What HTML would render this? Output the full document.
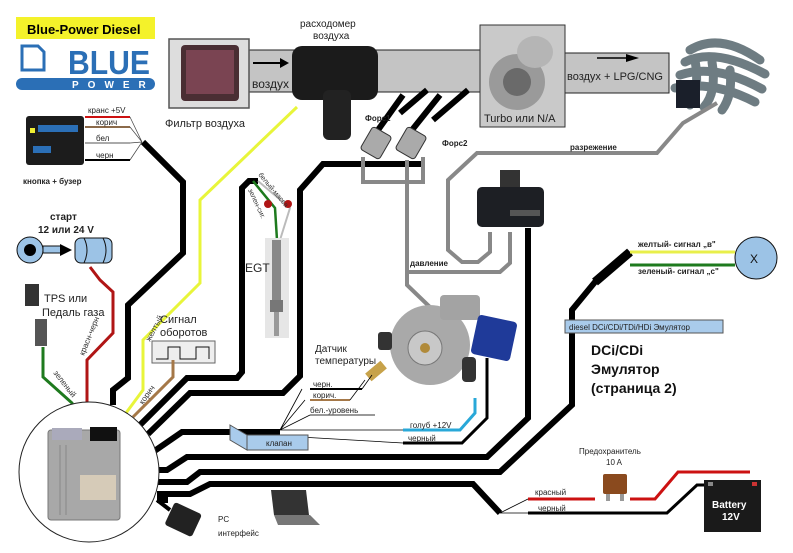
<!DOCTYPE html>
<html><head><meta charset="utf-8"><style>
body{margin:0;background:#fff;}
svg{display:block;font-family:"Liberation Sans",Arial,sans-serif;}
</style></head><body>
<svg width="793" height="553" viewBox="0 0 793 553" xmlns="http://www.w3.org/2000/svg">
<rect width="793" height="553" fill="#fff"/>
<!-- Logo -->
<rect x="16" y="17" width="139" height="22" fill="#f4f22a"/>
<text x="27" y="34" font-size="13" font-weight="bold">Blue-Power Diesel</text>
<path d="M22 46 h16 l6 6 v18 h-22z" fill="none" stroke="#2b6fb6" stroke-width="3"/>
<text x="68" y="74" font-size="33" font-weight="bold" fill="#2b6fb6" textLength="82" lengthAdjust="spacingAndGlyphs">BLUE</text>
<rect x="16" y="78" width="139" height="12" rx="6" fill="#2b6fb6"/>
<text x="72" y="88" font-size="10" font-weight="bold" fill="#fff" letter-spacing="9">POWER</text>

<!-- Intake tubes -->
<rect x="249" y="50" width="233" height="42" fill="#c4c4c4" stroke="#222" stroke-width="1"/>
<rect x="565" y="53" width="104" height="40" fill="#c4c4c4" stroke="#222" stroke-width="1"/>
<line x1="253" y1="63" x2="282" y2="63" stroke="#000" stroke-width="2"/><path d="M280 58 l9 5 l-9 5z"/>
<text x="252" y="88" font-size="12" fill="#222">воздух</text>
<line x1="597" y1="58" x2="628" y2="58" stroke="#000" stroke-width="1.5"/><path d="M626 54 l13 4 l-13 4z"/>
<text x="567" y="80" font-size="11" fill="#222">воздух + LPG/CNG</text>
<!-- air filter -->
<rect x="169" y="39" width="80" height="69" fill="#ddd" stroke="#555" stroke-width="1.5"/>
<rect x="181" y="45" width="58" height="56" rx="4" fill="#4a2e33"/>
<rect x="186" y="50" width="48" height="44" fill="#7a4452"/>
<text x="165" y="127" font-size="11" fill="#222">Фильтр воздуха</text>
<!-- flowmeter -->
<text x="300" y="27" font-size="10" fill="#222">расходомер</text>
<text x="313" y="39" font-size="10" fill="#222">воздуха</text>
<rect x="292" y="46" width="86" height="54" rx="10" fill="#1b1b1b"/>
<rect x="323" y="90" width="28" height="50" rx="6" fill="#222"/>
<!-- turbo -->
<rect x="480" y="25" width="85" height="102" fill="#c9c9c9" stroke="#333"/>
<circle cx="517" cy="82" r="28" fill="#9a9a9a"/><circle cx="517" cy="82" r="14" fill="#6a6a6a"/>
<ellipse cx="535" cy="52" rx="18" ry="16" fill="#b5b5b5"/>
<text x="484" y="122" font-size="11" fill="#222">Turbo или N/A</text>
<!-- manifold -->
<g fill="none" stroke="#6e7c82" stroke-width="9" stroke-linecap="round">
<path d="M690 50 q30 -18 70 10"/><path d="M685 62 q30 -15 80 12"/><path d="M680 75 q35 -12 82 14"/><path d="M675 88 q38 -8 80 14"/>
<path d="M695 60 q5 30 -5 45"/><path d="M712 62 q5 30 -8 45"/><path d="M730 70 q3 25 -8 40"/>
</g>
<rect x="676" y="80" width="24" height="28" fill="#1a1f2a"/>

<!-- kнопка -->
<rect x="26" y="116" width="58" height="49" rx="3" fill="#1c1c1c"/>
<rect x="30" y="128" width="5" height="5" fill="#ee3"/><rect x="38" y="125" width="40" height="7" fill="#2b6fb6"/>
<rect x="33" y="146" width="18" height="7" fill="#2b6fb6"/>
<g stroke-width="2" fill="none"><line x1="85" y1="117" x2="130" y2="117" stroke="#c11"/><line x1="85" y1="127" x2="130" y2="127" stroke="#8b6a4a"/><line x1="85" y1="143" x2="130" y2="143" stroke="#aaa"/><line x1="85" y1="160" x2="130" y2="160" stroke="#000"/></g>
<path d="M130 117 L142 142 M130 127 L142 142 M130 143 L142 142 M130 160 L142 142" stroke="#444" stroke-width="0.7"/>
<text x="88" y="113" font-size="8" fill="#222">кранс +5V</text>
<text x="96" y="125" font-size="8" fill="#222">корич</text>
<text x="96" y="141" font-size="8" fill="#222">бел</text>
<text x="96" y="158" font-size="8" fill="#222">черн</text>
<text x="23" y="184" font-size="8" font-weight="bold" fill="#222">кнопка + бузер</text>

<!-- start -->
<text x="50" y="220" font-size="10" font-weight="bold" fill="#222">старт</text>
<text x="38" y="233" font-size="10" font-weight="bold" fill="#222">12 или 24 V</text>
<circle cx="30" cy="250" r="13" fill="#9cc3e6" stroke="#111"/><circle cx="30" cy="250" r="6" fill="#000"/>
<rect x="43" y="246" width="18" height="7" fill="#9cc3e6" stroke="#111"/><path d="M60 244 l12 6 l-12 6z"/>
<rect x="75" y="238" width="37" height="25" rx="6" fill="#9cc3e6" stroke="#111"/>
<path d="M84 238 q6 12 0 25 M103 238 q6 12 0 25" stroke="#111" fill="none"/>

<!-- TPS -->
<rect x="25" y="284" width="14" height="22" fill="#333"/><rect x="35" y="319" width="12" height="27" fill="#555"/>
<text x="44" y="302" font-size="11" fill="#222">TPS или</text>
<text x="42" y="316" font-size="11" fill="#222">Педаль газа</text>
<polyline points="43,347 43,377 72,403 73,407" fill="none" stroke="#1e7a1e" stroke-width="3"/>
<polyline points="90,267 100,280 113,292 113,333 87,360 87,405" fill="none" stroke="#b01515" stroke-width="3"/>
<text transform="translate(53,373) rotate(52)" font-size="8" fill="#333">зеленый</text>
<text transform="translate(84,356) rotate(-68)" font-size="8" fill="#333">красн-черн</text>

<!-- yellow -->
<polyline points="297,107 200,200 200,283 143,340 143,390 123,417" fill="none" stroke="#e8f53a" stroke-width="3"/>
<text transform="translate(150,342) rotate(-62)" font-size="8" fill="#333">желтый</text>
<!-- signal -->
<text x="160" y="323" font-size="11" fill="#222">Сигнал</text>
<text x="160" y="336" font-size="11" fill="#222">оборотов</text>
<rect x="152" y="341" width="63" height="22" fill="#eee" stroke="#666"/>
<polyline points="156,359 168,359 168,347 180,347 180,359 196,359 196,347 209,347 209,359" fill="none" stroke="#111"/>
<polyline points="173,360 173,377 133,417" fill="none" stroke="#a57848" stroke-width="3"/>
<text transform="translate(143,405) rotate(-55)" font-size="8" fill="#333">корич</text>

<!-- black thick wires -->
<g fill="none" stroke="#000" stroke-width="6" stroke-linejoin="miter">
<polyline points="143,142 183,182 183,253 128,305 128,378 113,390 113,405"/>
<polyline points="138,427 187,378 237,378 242,372 242,188 249,181 258,181"/>
<polyline points="148,434 190,393 283,393 300,376 300,190 323,164 425,164"/>
<polyline points="153,452 182,432 280,432"/>
<polyline points="157,470 167,470 187,457 487,457 528,418 528,228"/>
<polyline points="157,482 187,482 200,472 500,472 572,405 572,310 595,282 630,252"/>
<polyline points="157,494 190,494 210,484 473,484 500,513"/>
<line x1="157" y1="500" x2="168" y2="500"/>
</g>
<line x1="595" y1="282" x2="630" y2="252" stroke="#000" stroke-width="9"/>
<!-- X -->
<line x1="630" y1="252" x2="735" y2="252" stroke="#e8ef4a" stroke-width="3"/>
<line x1="630" y1="265" x2="735" y2="265" stroke="#1e7a1e" stroke-width="3"/>
<text x="638" y="247" font-size="8" font-weight="bold" fill="#222">желтый- сигнал „в"</text>
<text x="638" y="274" font-size="8" font-weight="bold" fill="#222">зеленый- сигнал „с"</text>
<circle cx="756" cy="258" r="21" fill="#9cc3e6" stroke="#111"/>
<text x="750" y="263" font-size="12" fill="#111">X</text>

<!-- EGT -->
<polyline points="253,181 275,208 277,240" fill="none" stroke="#1e7a1e" stroke-width="2.5"/>
<polyline points="258,181 290,208 280,240" fill="none" stroke="#bbb" stroke-width="2"/>
<circle cx="268" cy="204" r="4" fill="#b01515"/><circle cx="288" cy="204" r="4" fill="#b01515"/>
<text transform="translate(258,175) rotate(50)" font-size="7" fill="#333">белый-масса</text>
<text transform="translate(248,190) rotate(65)" font-size="7" fill="#333">зелен-сиг.</text>
<rect x="265" y="238" width="24" height="100" fill="#e6e6e6"/>
<rect x="272" y="240" width="9" height="60" fill="#888"/><rect x="270" y="300" width="13" height="12" fill="#777"/><rect x="274" y="312" width="5" height="24" fill="#999"/>
<text x="245" y="272" font-size="12" fill="#222">EGT</text>

<!-- injectors -->
<g fill="none" stroke="#000" stroke-width="6">
<line x1="378" y1="130" x2="403" y2="95"/><line x1="412" y1="130" x2="440" y2="95"/>
<line x1="400" y1="113" x2="427" y2="90"/><line x1="433" y1="120" x2="468" y2="90"/>
</g>
<g fill="#aaa" stroke="#333"><rect x="365" y="130" width="22" height="26" rx="3" transform="rotate(30 376 143)"/><rect x="400" y="130" width="22" height="26" rx="3" transform="rotate(30 411 143)"/></g>
<text x="365" y="121" font-size="8" font-weight="bold" fill="#222">Форс1</text>
<text x="442" y="146" font-size="8" font-weight="bold" fill="#222">Форс2</text>

<!-- gray hoses -->
<g fill="none" stroke="#888" stroke-width="4">
<polyline points="363,157 363,182 423,182 423,157"/>
<polyline points="407,160 407,285 433,310 433,324"/>
<polyline points="717,103 683,123 657,153 477,153 448,180 448,250 462,262 478,262 490,252 490,232"/>
<polyline points="510,232 510,263 500,272 407,272"/>
</g>
<text x="570" y="150" font-size="8" font-weight="bold" fill="#222">разрежение</text>
<text x="410" y="266" font-size="8" font-weight="bold" fill="#222">давление</text>
<!-- emulator box -->
<rect x="500" y="170" width="20" height="20" fill="#333"/>
<rect x="477" y="187" width="67" height="40" rx="5" fill="#1d1f24"/>
<rect x="510" y="210" width="30" height="6" fill="#555"/>

<!-- regulator -->
<circle cx="430" cy="345" r="40" fill="#a9a9a9"/><circle cx="425" cy="348" r="17" fill="#c8c8c8" stroke="#777"/><circle cx="425" cy="348" r="5" fill="#b08a3a"/>
<rect x="440" y="295" width="40" height="25" rx="4" fill="#a3a3a3"/>
<rect x="474" y="318" width="40" height="40" rx="4" fill="#1f3a99" transform="rotate(12 494 338)"/>
<rect x="462" y="357" width="14" height="25" rx="4" fill="#333"/>
<rect x="378" y="332" width="14" height="18" rx="3" fill="#333"/>
<rect x="366" y="366" width="20" height="10" fill="#c7a24a" transform="rotate(-40 376 371)"/>
<text x="315" y="352" font-size="10" fill="#222">Датчик</text>
<text x="315" y="364" font-size="10" fill="#222">температуры</text>
<line x1="310" y1="389" x2="362" y2="389" stroke="#000" stroke-width="2"/>
<line x1="310" y1="400" x2="350" y2="400" stroke="#a57848" stroke-width="2"/>
<line x1="310" y1="415" x2="375" y2="415" stroke="#999" stroke-width="2"/>
<text x="313" y="387" font-size="8" fill="#222">черн.</text>
<text x="313" y="398" font-size="8" fill="#222">корич.</text>
<text x="310" y="413" font-size="8" fill="#222">бел.-уровень</text>
<path d="M280 430 L302 389 M280 430 L305 400 M280 430 L310 415 M362 389 L372 375 M350 400 L365 380 M280 430 L403 430 M300 437 L403 443" stroke="#000" stroke-width="0.8" fill="none"/>
<polyline points="403,430 460,430 475,413 475,398" fill="none" stroke="#29a8d8" stroke-width="3"/>
<polyline points="403,443 462,443 487,418 487,358" fill="none" stroke="#000" stroke-width="3"/>
<text x="410" y="428" font-size="8" fill="#222">голуб +12V</text>
<text x="408" y="441" font-size="8" fill="#222">черный</text>
<!-- klapan -->
<path d="M230 425 L247 435 L247 450 L230 440z" fill="#a9cbeb" stroke="#555"/>
<rect x="247" y="435" width="61" height="15" fill="#a9cbeb" stroke="#555"/>
<text x="266" y="446" font-size="8" fill="#222">клапан</text>

<!-- title right -->
<rect x="565" y="320" width="158" height="13" fill="#a9cbeb" stroke="#555"/>
<text x="569" y="330" font-size="8" fill="#222">diesel DCi/CDi/TDi/HDi Эмулятор</text>
<text x="591" y="355" font-size="14" font-weight="bold" fill="#111">DCi/CDi</text>
<text x="591" y="374" font-size="14" font-weight="bold" fill="#111">Эмулятор</text>
<text x="591" y="393" font-size="14" font-weight="bold" fill="#111">(страница 2)</text>

<!-- battery & fuse -->
<path d="M500 513 L528 499 M500 513 L528 513" stroke="#000" stroke-width="0.8"/>
<line x1="528" y1="499" x2="595" y2="499" stroke="#c11" stroke-width="3"/>
<polyline points="630,499 655,499 678,472 750,472" fill="none" stroke="#c11" stroke-width="3"/>
<polyline points="528,513 667,513 697,485 707,485" fill="none" stroke="#000" stroke-width="3"/>
<text x="535" y="495" font-size="8" fill="#222">красный</text>
<text x="538" y="511" font-size="8" fill="#222">черный</text>
<text x="579" y="454" font-size="8" fill="#222">Предохранитель</text>
<text x="606" y="465" font-size="8" fill="#222">10 A</text>
<rect x="603" y="474" width="24" height="20" rx="2" fill="#8a4a1e"/><rect x="606" y="494" width="4" height="7" fill="#999"/><rect x="620" y="494" width="4" height="7" fill="#999"/>
<rect x="704" y="480" width="57" height="52" fill="#1a1a1a"/>
<rect x="708" y="482" width="5" height="4" fill="#888"/><rect x="752" y="482" width="5" height="4" fill="#c33"/>
<text x="712" y="508" font-size="10" font-weight="bold" fill="#fff">Battery</text>
<text x="722" y="520" font-size="10" font-weight="bold" fill="#fff">12V</text>

<!-- ECU -->
<circle cx="89" cy="472" r="70" fill="#fff" stroke="#222" stroke-width="1"/>
<rect x="48" y="430" width="72" height="90" rx="3" fill="#a8a8a8" stroke="#777"/>
<rect x="52" y="428" width="30" height="12" fill="#aab"/><rect x="90" y="427" width="27" height="14" fill="#111"/>
<rect x="80" y="475" width="36" height="25" fill="#d6cbb8"/>
<line x1="60" y1="445" x2="60" y2="515" stroke="#888"/><line x1="66" y1="445" x2="66" y2="515" stroke="#888"/>
<!-- PC -->
<line x1="157" y1="500" x2="170" y2="510" stroke="#000" stroke-width="4"/>
<rect x="168" y="507" width="30" height="25" rx="3" fill="#222" transform="rotate(25 183 520)"/>
<text x="218" y="522" font-size="8" fill="#222">PC</text>
<text x="218" y="536" font-size="8" fill="#222">интерфейс</text>
<path d="M271 490 h35 l3 25 h-35z" fill="#333"/><path d="M274 515 h36 l10 10 h-42z" fill="#777"/>
</svg>
</body></html>
